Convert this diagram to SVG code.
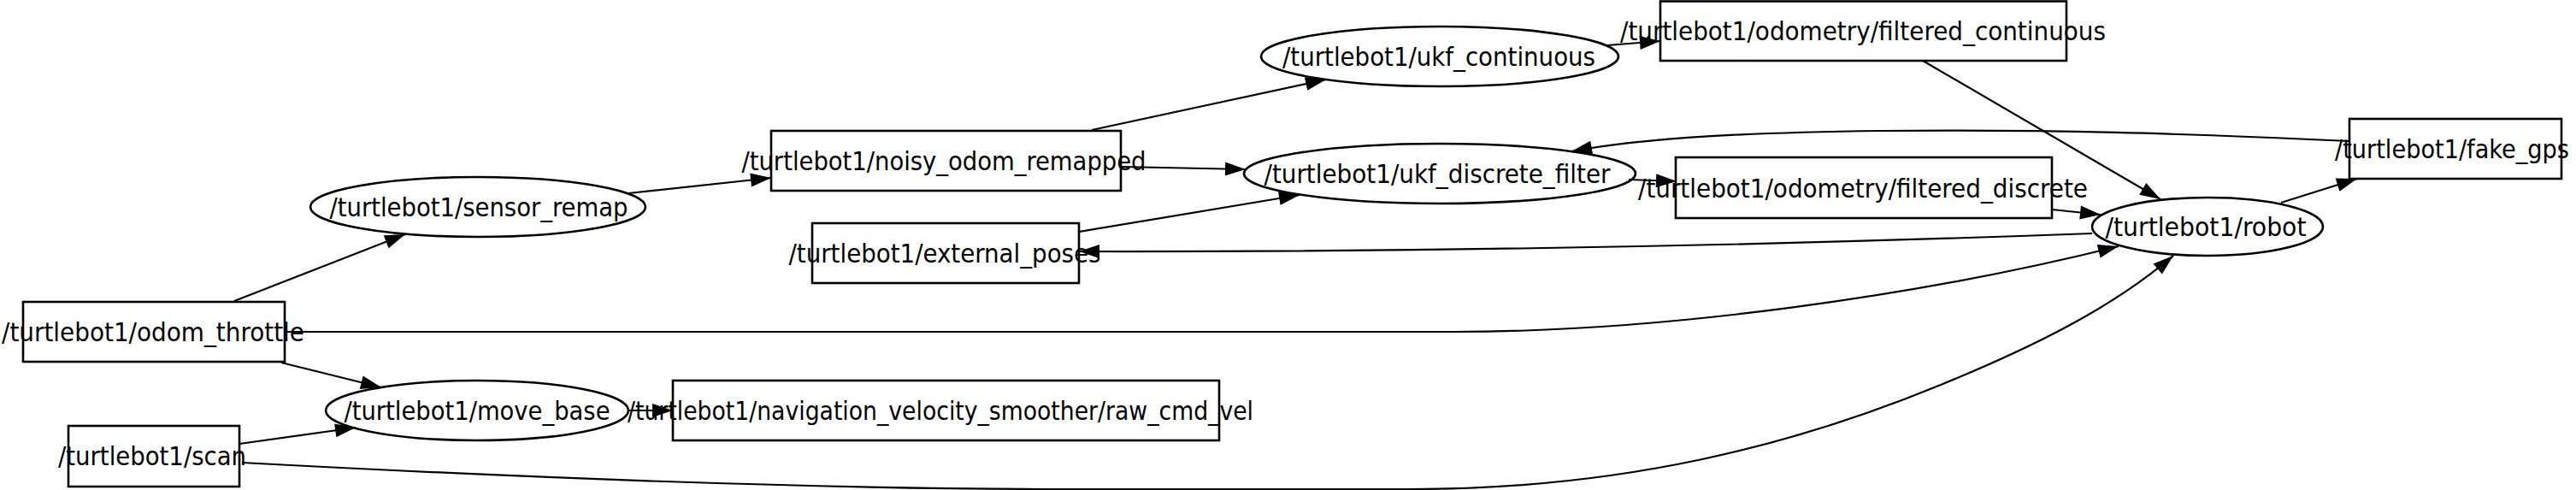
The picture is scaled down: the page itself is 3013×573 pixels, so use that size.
<svg xmlns="http://www.w3.org/2000/svg" width="3013" height="573" viewBox="0 0 3013 573">
<style>
.n{fill:none;stroke:#000;stroke-width:2.6}
.e{fill:none;stroke:#000;stroke-width:2.2;marker-end:url(#ah)}
text{font-family:"DejaVu Sans Condensed","DejaVu Sans","Noto Sans",sans-serif;font-stretch:condensed;font-size:31px;fill:#000;text-anchor:middle}
</style>
<defs>
<marker id="ah" markerUnits="userSpaceOnUse" markerWidth="26" markerHeight="18" refX="24" refY="8" orient="auto" overflow="visible">
<path d="M0,0 L24,8 L0,16 z" fill="#000"/>
</marker>
</defs>
<rect width="3013" height="573" fill="#fff"/>
<g id="edges">
<path class="e" d="M274,352 L474,274"/>
<path class="e" d="M329,424 L446,453"/>
<path class="e" d="M333,388 L1700,388 C1950,388 2250,345 2478,288"/>
<path class="e" d="M280,519 L416,500"/>
<path class="e" d="M283,541 C600,558 950,572 1250,572 L1650,572 C1900,572 2100,520 2270,450 C2380,405 2470,360 2542,299"/>
<path class="e" d="M735,480 L787,480"/>
<path class="e" d="M735,226 L902,208"/>
<path class="e" d="M1311,195 L1457,198"/>
<path class="e" d="M1277,152 L1551,93"/>
<path class="e" d="M1262,271 L1520,228"/>
<path class="e" d="M1880,53 L1942,48"/>
<path class="e" d="M1905,210 L1961,212"/>
<path class="e" d="M2249,71 L2527,233"/>
<path class="e" d="M2400,245 L2457,251"/>
<path class="e" d="M2748,165 C2550,156 2400,151 2200,153 C2050,155 1930,160 1838,177"/>
<path class="e" d="M2447,273 Q1850,295 1262,294"/>
<path class="e" d="M2668,237 L2757,209"/>
</g>
<g id="odom_throttle"><rect class="n" x="27" y="353" width="306" height="70"/><text x="179" y="399" textLength="354" lengthAdjust="spacingAndGlyphs">/turtlebot1/odom_throttle</text></g>
<g id="scan"><rect class="n" x="80" y="498" width="200" height="71"/><text x="178" y="544" textLength="220" lengthAdjust="spacingAndGlyphs">/turtlebot1/scan</text></g>
<g id="sensor_remap"><ellipse class="n" cx="559" cy="242" rx="196" ry="35"/><text x="560" y="253" textLength="349" lengthAdjust="spacingAndGlyphs">/turtlebot1/sensor_remap</text></g>
<g id="move_base"><ellipse class="n" cx="558" cy="480" rx="177" ry="35"/><text x="558" y="491" textLength="311" lengthAdjust="spacingAndGlyphs">/turtlebot1/move_base</text></g>
<g id="raw_cmd_vel"><rect class="n" x="787" y="445" width="639" height="70"/><text x="1100" y="491" textLength="732" lengthAdjust="spacingAndGlyphs">/turtlebot1/navigation_velocity_smoother/raw_cmd_vel</text></g>
<g id="noisy_odom_remapped"><rect class="n" x="902" y="153" width="409" height="70"/><text x="1104" y="199" textLength="473" lengthAdjust="spacingAndGlyphs">/turtlebot1/noisy_odom_remapped</text></g>
<g id="external_poses"><rect class="n" x="950" y="261" width="312" height="70"/><text x="1105" y="307" textLength="365" lengthAdjust="spacingAndGlyphs">/turtlebot1/external_poses</text></g>
<g id="ukf_continuous"><ellipse class="n" cx="1684" cy="66" rx="209" ry="35"/><text x="1683" y="77" textLength="366" lengthAdjust="spacingAndGlyphs">/turtlebot1/ukf_continuous</text></g>
<g id="filtered_continuous"><rect class="n" x="1942" y="1.5" width="475" height="69.5"/><text x="2179" y="47" textLength="568" lengthAdjust="spacingAndGlyphs">/turtlebot1/odometry/filtered_continuous</text></g>
<g id="ukf_discrete_filter"><ellipse class="n" cx="1684" cy="203" rx="229" ry="35"/><text x="1681" y="214" textLength="405" lengthAdjust="spacingAndGlyphs">/turtlebot1/ukf_discrete_filter</text></g>
<g id="filtered_discrete"><rect class="n" x="1960" y="184" width="440" height="71"/><text x="2179" y="231" textLength="526" lengthAdjust="spacingAndGlyphs">/turtlebot1/odometry/filtered_discrete</text></g>
<g id="robot"><ellipse class="n" cx="2582" cy="265" rx="135" ry="34"/><text x="2580" y="276" textLength="235" lengthAdjust="spacingAndGlyphs">/turtlebot1/robot</text></g>
<g id="fake_gps"><rect class="n" x="2748" y="139" width="248" height="70"/><text x="2868" y="185" textLength="274" lengthAdjust="spacingAndGlyphs">/turtlebot1/fake_gps</text></g>
</svg>
